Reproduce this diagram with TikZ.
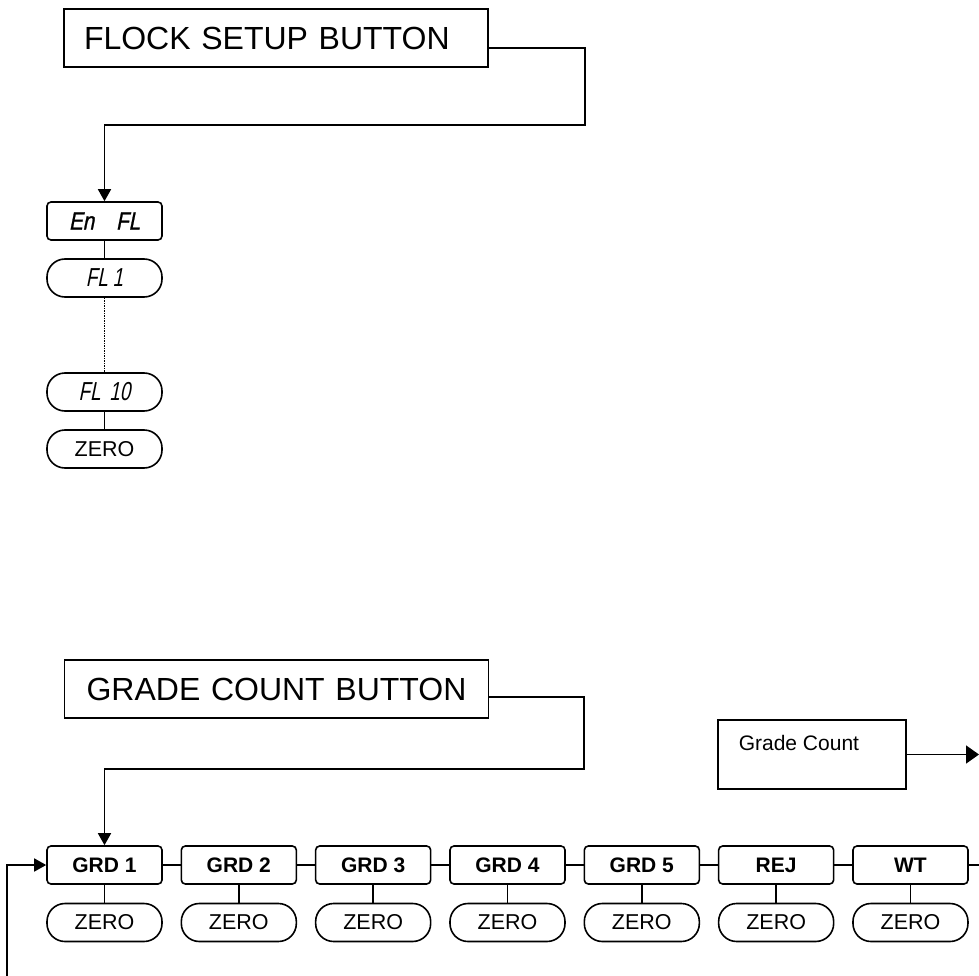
\documentclass[tikz,border=0pt]{standalone}
\usepackage{fontspec}
\setmainfont{Liberation Sans}
\newfontfamily\segA{Liberation Sans}[FakeStretch=0.82, FakeSlant=0.2, FakeBold=1]
\newfontfamily\segB{Liberation Sans}[FakeStretch=0.72, FakeSlant=0.2]
\usetikzlibrary{arrows.meta}
\begin{document}
\begin{tikzpicture}[x=1pt,y=-1pt, line width=1.6pt,
 btn/.style={draw, rectangle, minimum height=58pt, inner ysep=0pt, font=\fontsize{32pt}{36pt}\selectfont},
 disp/.style={draw, rounded corners=4pt, minimum width=115pt, minimum height=38pt, inner sep=0pt},
 pill/.style={draw, rounded corners=18pt, minimum width=115pt, minimum height=38pt, inner sep=0pt, font=\fontsize{21.5pt}{24pt}\selectfont},
 grd/.style={disp, font=\fontsize{21pt}{24pt}\selectfont\bfseries},
 segbig/.style={font=\fontsize{25pt}{28pt}\segA},
 segthin/.style={font=\fontsize{26pt}{28pt}\segB},
 arr/.style={-{Triangle[length=12pt,width=13pt]}},
 bigarr/.style={-{Triangle[length=13pt,width=18pt]}},
 dots/.style={line width=1.2pt, dash pattern=on 1.2pt off 1.3pt}]
\useasboundingbox (0,0) rectangle (979,976);

% ---- flock setup ----
\node[btn, text width=384pt, align=left, inner xsep=20pt] (flock) at (276,38) {FLOCK SETUP BUTTON};
\node[disp, segbig] (enfl) at (104.5,221) {En\hspace{22pt}FL};
\node[pill, segthin] (fl1) at (104.5,278) {FL\hspace{5pt}1};
\node[pill, segthin] (fl10) at (104.5,392) {FL\hspace{9pt}10};
\node[pill] (zt) at (104.5,449) {ZERO};
\coordinate (fc) at (585,125);
\draw[arr] ([yshift=-10pt]flock.east) -| (fc) -| (enfl.north);
\draw (enfl) -- (fl1);
\draw[dots] (fl1) -- (fl10);
\draw (fl10) -- (zt);

% ---- grade count ----
\node[btn, text width=384pt, align=center, inner xsep=20pt] (grade) at (276.5,689) {GRADE COUNT BUTTON};
\foreach \i/\t in {1/GRD 1,2/GRD 2,3/GRD 3,4/GRD 4,5/GRD 5,6/REJ,7/WT}{
  \node[grd] (g\i) at ({104.5+134.33*(\i-1)},865) {\t};
  \node[pill] (z\i) at ({104.5+134.33*(\i-1)},922.5) {ZERO};
  \draw (g\i) -- (z\i);
}
\foreach \i/\j in {1/2,2/3,3/4,4/5,5/6,6/7}{
  \draw (g\i) -- (g\j);
}
\coordinate (gc1) at (584,769);
\draw[arr] ([yshift=-8pt]grade.east) -| (gc1) -| (g1.north);
\coordinate (lp) at (7,976);
\draw[arr] (lp) |- (g1.west);
\coordinate (we) at (979,865);
\draw (g7) -- (we);

% ---- grade count box ----
\node[draw, rectangle, minimum width=188pt, minimum height=69pt] (gcb) at (812,754.5) {};
\node[anchor=base west, inner sep=0pt, font=\fontsize{21pt}{24pt}\selectfont] (gct) at (738,750.5) {Grade Count};
\coordinate (gcend) at (979,754.5);
\draw[bigarr] (gcb) -- (gcend);
\end{tikzpicture}
\end{document}
